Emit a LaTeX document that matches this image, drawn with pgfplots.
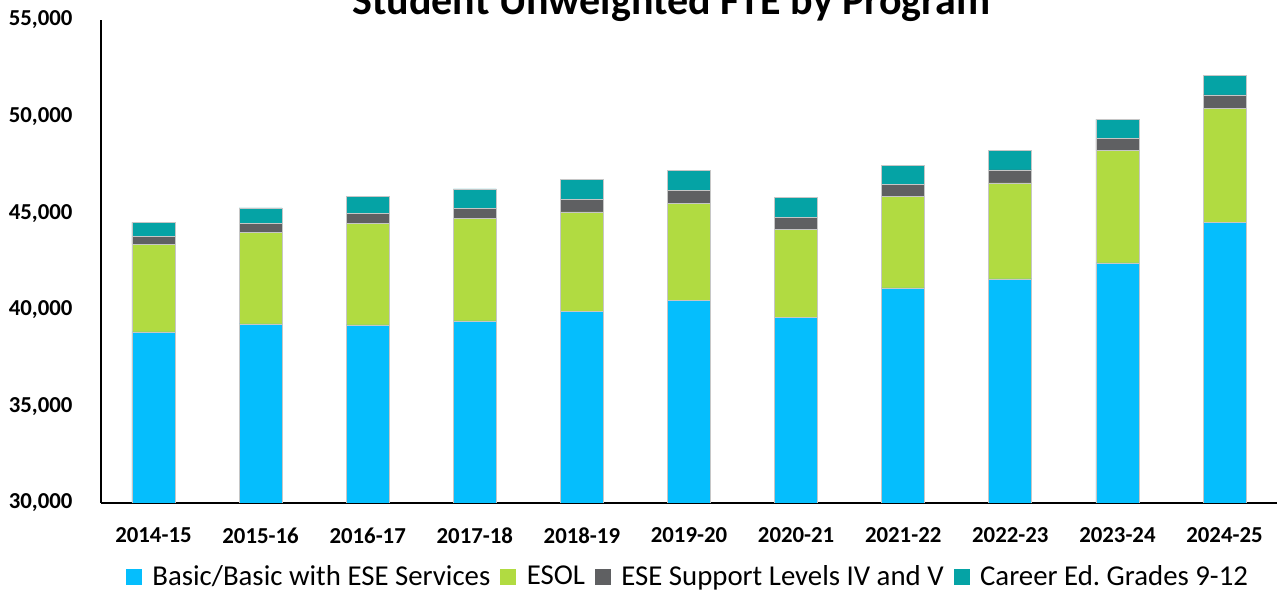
\documentclass[border=0pt]{standalone}
\usepackage{pgfplots}
\pgfplotsset{compat=1.18}
\usepackage{pgfplotstable}
\usepackage{fontspec}
\setmainfont{Carlito}
\frenchspacing
\definecolor{cBasic}{HTML}{05BEFD}
\definecolor{cEsol}{HTML}{B1DB41}
\definecolor{cEse}{HTML}{5F6062}
\definecolor{cCar}{HTML}{05A3A5}
\pgfplotstableread{
x basic esol ese car
0 38851 4539 394 745
1 39265 4747 445 812
2 39213 5264 497 880
3 39420 5296 517 1020
4 39902 5160 637 1056
5 40492 5020 653 1035
6 39612 4534 621 1035
7 41128 4747 621 983
8 41594 4969 673 1020
9 42422 5813 621 1004
10 44529 5880 709 1020
}\data
\begin{document}
\begin{tikzpicture}
\begin{axis}[name=ax,
  width=588pt, height=241.5pt, scale only axis,
  ybar stacked, bar width=21.5pt,
  xmin=-0.49, xmax=10.49, ymin=30000, ymax=55000,
  ytick={30000,35000,40000,45000,50000,55000},
  xtick=data,
  xticklabels={2014-15,2015-16,2016-17,2017-18,2018-19,2019-20,2020-21,2021-22,2022-23,2023-24,2024-25},
  axis x line=bottom, axis y line=left,
  axis line style={-, black, line width=1pt},
  major tick length=0pt,
  scaled y ticks=false,
  ticklabel style={font=\fontsize{11.4}{13}\selectfont\bfseries},
  yticklabel style={xshift=-10.7pt, /pgf/number format/.cd, fixed, 1000 sep={,}, assume math mode=true},
  xticklabel style={yshift=-8.9pt},
  legend style={at={(0.5,0)}, anchor=center, yshift=-37pt, draw=none, fill=none,
    legend columns=-1, font=\fontsize{14.4}{16}\selectfont,
    /tikz/every even column/.append style={column sep=3pt}},
  legend image code/.code={\fill[#1, draw=none] (0pt,-4pt) rectangle (8pt,4pt); \path (11pt,0pt);},
]
\addplot[fill=cBasic, draw=gray!45, line width=0.4pt] table[x=x,y=basic]{\data};
\addplot[fill=cEsol, draw=gray!45, line width=0.4pt] table[x=x,y=esol]{\data};
\addplot[fill=cEse, draw=gray!45, line width=0.4pt] table[x=x,y=ese]{\data};
\addplot[fill=cCar, draw=gray!45, line width=0.4pt] table[x=x,y=car]{\data};
\legend{Basic/Basic with ESE Services, ESOL, ESE Support Levels IV and V, Career Ed.\ Grades 9-12}
\end{axis}
\path (ax.north west) -- (ax.north east) node[pos=0.485, anchor=base, yshift=2.5pt, font=\fontsize{21}{25}\selectfont\bfseries] {Student Unweighted FTE by Program};
\pgfresetboundingbox
\path[use as bounding box] ([xshift=-50.5pt,yshift=-44pt]ax.south west) rectangle ([xshift=1.5pt,yshift=10pt]ax.north east);
\end{tikzpicture}
\end{document}
